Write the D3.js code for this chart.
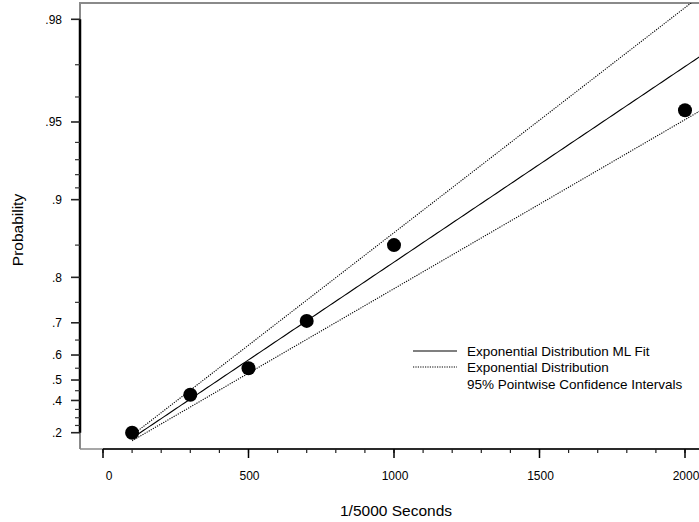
<!DOCTYPE html>
<html>
<head>
<meta charset="utf-8">
<script src="https://cdn.jsdelivr.net/npm/d3@7"></script>
<style>
html,body{margin:0;padding:0;background:#fff;}
svg{display:block;font-family:"Liberation Sans",Arial,sans-serif;}
</style>
</head>
<body>
<svg id="chart" width="699" height="522"></svg>
<script>
// ---- data ----
const times = [100, 300, 500, 700, 1000, 2000];
const probs = [0.20, 0.43, 0.55, 0.705, 0.85, 0.955];
const fitTheta = 573;       // ML fit scale (line u = t/theta)
const ciUpperTheta = 498;   // upper probability band
const ciLowerTheta = 663;   // lower probability band
const xMajorTicks = [0, 500, 1000, 1500, 2000];
const xMinorTicks = d3.range(0, 2001, 100);
const yMajorTicks = [0.2, 0.4, 0.5, 0.6, 0.7, 0.8, 0.9, 0.95, 0.98];
const yMajorLabels = [".2", ".4", ".5", ".6", ".7", ".8", ".9", ".95", ".98"];
const yMinorTicks = [0.25, 0.3, 0.35, 0.45, 0.55, 0.65, 0.75, 0.85, 0.91, 0.92, 0.93, 0.94, 0.96, 0.97];
const legendLabels = ["Exponential Distribution ML Fit", "Exponential Distribution", "95% Pointwise Confidence Intervals"];
const xTitle = "1/5000 Seconds";
const yTitle = "Probability";

// ---- layout ----
const svg = d3.select("#chart");
const pLeft = 80, pTop = 3, pBottom = 449, pRight = 699;
const u = p => -Math.log(1 - p);
const x = d3.scaleLinear().domain([0, 2000]).range([103, 685]);
const yu = d3.scaleLinear().domain([u(0.2), u(0.98)]).range([432.7, 19.3]);
const y = p => yu(u(p));

svg.append("defs").append("clipPath").attr("id", "plotclip")
  .append("rect").attr("x", pLeft).attr("y", pTop).attr("width", pRight - pLeft + 50).attr("height", pBottom - pTop);

// frame (gray)
svg.append("path")
  .attr("d", `M${pLeft},${pBottom} L${pLeft},${pTop} L${pRight + 5},${pTop}`)
  .attr("fill", "none").attr("stroke", "#8a8a8a").attr("stroke-width", 2);
svg.append("line").attr("x1", pLeft).attr("x2", pRight + 5).attr("y1", pBottom).attr("y2", pBottom)
  .attr("stroke", "#8a8a8a").attr("stroke-width", 1.5);

// y axis
const yAxisG = svg.append("g");
yAxisG.append("line").attr("x1", pLeft).attr("x2", pLeft)
  .attr("y1", y(0.98)).attr("y2", y(0.2)).attr("stroke", "#000").attr("stroke-width", 2.5);
yAxisG.selectAll(".ymaj").data(yMajorTicks).enter().append("line")
  .attr("x1", pLeft - 9).attr("x2", pLeft).attr("y1", d => y(d)).attr("y2", d => y(d))
  .attr("stroke", "#222").attr("stroke-width", 1.6);
yAxisG.selectAll(".ymin").data(yMinorTicks).enter().append("line")
  .attr("x1", pLeft - 5).attr("x2", pLeft).attr("y1", d => y(d)).attr("y2", d => y(d))
  .attr("stroke", "#333").attr("stroke-width", 1.2);
yAxisG.selectAll(".ylab").data(yMajorTicks).enter().append("text")
  .attr("x", 62).attr("y", d => y(d)).attr("dy", "0.35em")
  .attr("text-anchor", "end").attr("font-size", 12).attr("fill", "#000")
  .text((d, i) => yMajorLabels[i]);

// x axis
const xAxisG = svg.append("g");
xAxisG.append("line").attr("x1", x(0)).attr("x2", pRight + 5).attr("y1", pBottom).attr("y2", pBottom)
  .attr("stroke", "#000").attr("stroke-width", 1.5);
xAxisG.selectAll(".xmin").data(xMinorTicks).enter().append("line")
  .attr("x1", d => x(d)).attr("x2", d => x(d)).attr("y1", pBottom).attr("y2", pBottom + 4)
  .attr("stroke", "#222").attr("stroke-width", 1.2);
xAxisG.selectAll(".xmaj").data(xMajorTicks).enter().append("line")
  .attr("x1", d => x(d)).attr("x2", d => x(d)).attr("y1", pBottom).attr("y2", pBottom + 9)
  .attr("stroke", "#000").attr("stroke-width", 1.5);
xAxisG.selectAll(".xlab").data(xMajorTicks).enter().append("text")
  .attr("x", d => x(d) + (d === 0 ? 6 : 1)).attr("y", 480)
  .attr("text-anchor", "middle").attr("font-size", 12).attr("fill", "#000")
  .text(d => d);

// titles
svg.append("text").attr("x", 396).attr("y", 516).attr("text-anchor", "middle")
  .attr("font-size", 15.5).attr("fill", "#000").text(xTitle);
svg.append("text").attr("transform", "translate(23,230) rotate(-90)")
  .attr("text-anchor", "middle").attr("font-size", 15.5).attr("fill", "#000").text(yTitle);

// lines
const plot = svg.append("g").attr("clip-path", "url(#plotclip)");
const tGrid = d3.range(100, 2601, 10);
const lineFor = theta => d3.line().x(t => x(t)).y(t => yu(t / theta))(tGrid);
plot.append("path").attr("d", lineFor(fitTheta)).attr("fill", "none")
  .attr("stroke", "#000").attr("stroke-width", 1.1);
[ciUpperTheta, ciLowerTheta].forEach(th => {
  plot.append("path").attr("d", lineFor(th)).attr("fill", "none")
    .attr("stroke", "#000").attr("stroke-width", 1.1).attr("stroke-dasharray", "1.2,1.2");
});

// points
plot.selectAll("circle").data(times).enter().append("circle")
  .attr("cx", d => x(d)).attr("cy", (d, i) => y(probs[i])).attr("r", 7).attr("fill", "#000");

// legend
const lg = svg.append("g");
lg.append("line").attr("x1", 413).attr("x2", 457).attr("y1", 351).attr("y2", 351)
  .attr("stroke", "#000").attr("stroke-width", 1.1);
lg.append("line").attr("x1", 413).attr("x2", 457).attr("y1", 367).attr("y2", 367)
  .attr("stroke", "#000").attr("stroke-width", 1.1).attr("stroke-dasharray", "1.2,1.2");
lg.selectAll("text").data(legendLabels).enter().append("text")
  .attr("x", 467).attr("y", (d, i) => 351 + i * 16.5).attr("dy", "0.35em")
  .attr("font-size", 13.5).attr("fill", "#000").text(d => d);
</script>
</body>
</html>
